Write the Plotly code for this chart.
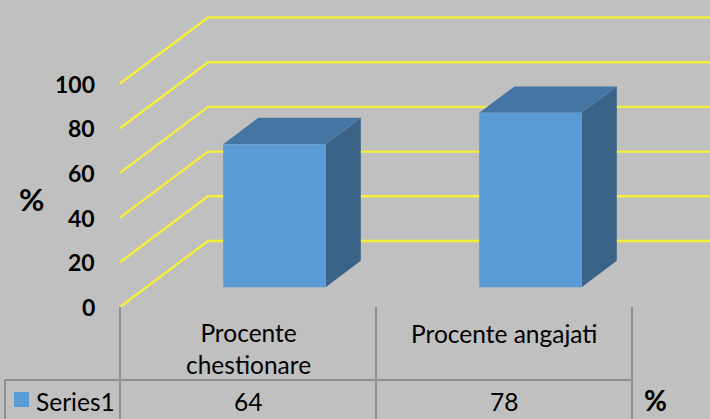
import plotly.graph_objects as go

# ---- data ----
categories = ["Procente<br>chestionare", "Procente angajati"]
values = [64, 78]
series_name = "Series1"
tick_values = [0, 20, 40, 60, 80, 100]
tick_labels = ["0", "20", "40", "60", "80", "100"]

# ---- styling / geometry ----
W, H = 710, 419
BG = "#C0C0C0"
YELLOW = "#F2F03A"
FRONT = "#5B9BD5"
TOP = "#4575A3"
SIDE = "#3A6387"
TABLE = "#8E8E8E"
FONT = "Lato"

# axis mapping: px_x = 120 + 256*x ; px_y = 307 - 2.235*v
x_px0, x_scale = 120, 256.0
y_px0, y_scale = 307, 2.235
x_range = [(0 - x_px0) / x_scale, (W - x_px0) / x_scale]
y_range = [(y_px0 - H) / y_scale, (y_px0 - 0) / y_scale]

DDX = 88 / x_scale        # full depth in x units
DDY = 66 / y_scale        # full depth in value units
D0, D1 = 0.3, 0.7         # bar depth fraction
BW0, BW1 = 0.3, 0.7       # bar width fraction in category

fig = go.Figure()

# gridlines (front-left diagonal then along back wall)
for v in tick_values:
    fig.add_trace(go.Scatter(
        x=[0, DDX, len(categories) + DDX + 0.1],
        y=[v, v + DDY, v + DDY],
        mode="lines", line=dict(color=YELLOW, width=2.4),
        hoverinfo="skip", showlegend=False))

# 3D bars
for i, v in enumerate(values):
    xl0 = i + BW0 + D0 * DDX
    xr0 = i + BW1 + D0 * DDX
    xl1 = i + BW0 + D1 * DDX
    xr1 = i + BW1 + D1 * DDX
    yb0 = D0 * DDY
    yt0 = v + D0 * DDY
    yb1 = D1 * DDY
    yt1 = v + D1 * DDY
    # side face
    fig.add_trace(go.Scatter(x=[xr0, xr1, xr1, xr0, xr0], y=[yb0, yb1, yt1, yt0, yb0],
                             fill="toself", fillcolor=SIDE, mode="lines",
                             line=dict(width=0, color=SIDE), hoverinfo="skip", showlegend=False))
    # top face
    fig.add_trace(go.Scatter(x=[xl0, xr0, xr1, xl1, xl0], y=[yt0, yt0, yt1, yt1, yt0],
                             fill="toself", fillcolor=TOP, mode="lines",
                             line=dict(width=0, color=TOP), hoverinfo="skip", showlegend=False))
    # front face
    fig.add_trace(go.Scatter(x=[xl0, xr0, xr0, xl0, xl0], y=[yb0, yb0, yt0, yt0, yb0],
                             fill="toself", fillcolor=FRONT, mode="lines",
                             line=dict(width=0, color=FRONT), hoverinfo="skip", showlegend=False))

def px_to_x(px):
    return (px - x_px0) / x_scale

def px_to_y(py):
    return (y_px0 - py) / y_scale

annotations = []
# tick labels
for v, lab in zip(tick_values, tick_labels):
    annotations.append(dict(x=px_to_x(97), y=v, text=f"<b>{lab}</b>", showarrow=False,
                            xanchor="right", yanchor="middle",
                            font=dict(family=FONT, size=23, color="black")))
# axis title %
annotations.append(dict(x=px_to_x(31.5), y=px_to_y(199), text="<b>%</b>", showarrow=False,
                        xanchor="center", yanchor="middle",
                        font=dict(family=FONT, size=31, color="black")))
annotations.append(dict(x=px_to_x(655), y=px_to_y(419), text="<b>%</b>", showarrow=False,
                        xanchor="center", yanchor="bottom",
                        font=dict(family=FONT, size=28, color="black")))

# data table: category labels and values
TS = 24.5
for i, (c, v) in enumerate(zip(categories, values)):
    annotations.append(dict(x=i + 0.5, y=px_to_y(348 if "<br>" in c else 333), text=c,
                            showarrow=False, xanchor="center", yanchor="middle",
                            font=dict(family=FONT, size=TS, color="black")))
    annotations.append(dict(x=i + 0.5, y=px_to_y(401), text=str(v), showarrow=False,
                            xanchor="center", yanchor="middle",
                            font=dict(family=FONT, size=TS, color="black")))
annotations.append(dict(x=px_to_x(34), y=px_to_y(401), text=series_name, showarrow=False,
                        xanchor="left", yanchor="middle",
                        font=dict(family=FONT, size=TS, color="black")))

shapes = []
# legend key square
shapes.append(dict(type="rect", xref="x", yref="y",
                   x0=px_to_x(14), x1=px_to_x(29), y0=px_to_y(407), y1=px_to_y(392),
                   fillcolor=FRONT, line=dict(width=0)))
# table lines
n = len(categories)
line_style = dict(color=TABLE, width=2)
shapes.append(dict(type="line", xref="x", yref="y", x0=px_to_x(5), x1=n,
                   y0=px_to_y(380), y1=px_to_y(380), line=line_style))
for k in range(n + 1):
    shapes.append(dict(type="line", xref="x", yref="y", x0=k, x1=k,
                       y0=0, y1=px_to_y(H + 5), line=line_style))
shapes.append(dict(type="line", xref="x", yref="y", x0=px_to_x(5), x1=px_to_x(5),
                   y0=px_to_y(380), y1=px_to_y(H + 5), line=line_style))

fig.update_layout(
    width=W, height=H,
    margin=dict(l=0, r=0, t=0, b=0),
    paper_bgcolor=BG, plot_bgcolor=BG,
    xaxis=dict(range=x_range, visible=False, fixedrange=True),
    yaxis=dict(range=y_range, visible=False, fixedrange=True),
    annotations=annotations, shapes=shapes,
    showlegend=False,
)

fig.write_html("out.html", config={"displayModeBar": False},
               post_script="document.body.style.margin='0';document.body.style.overflow='hidden';")
